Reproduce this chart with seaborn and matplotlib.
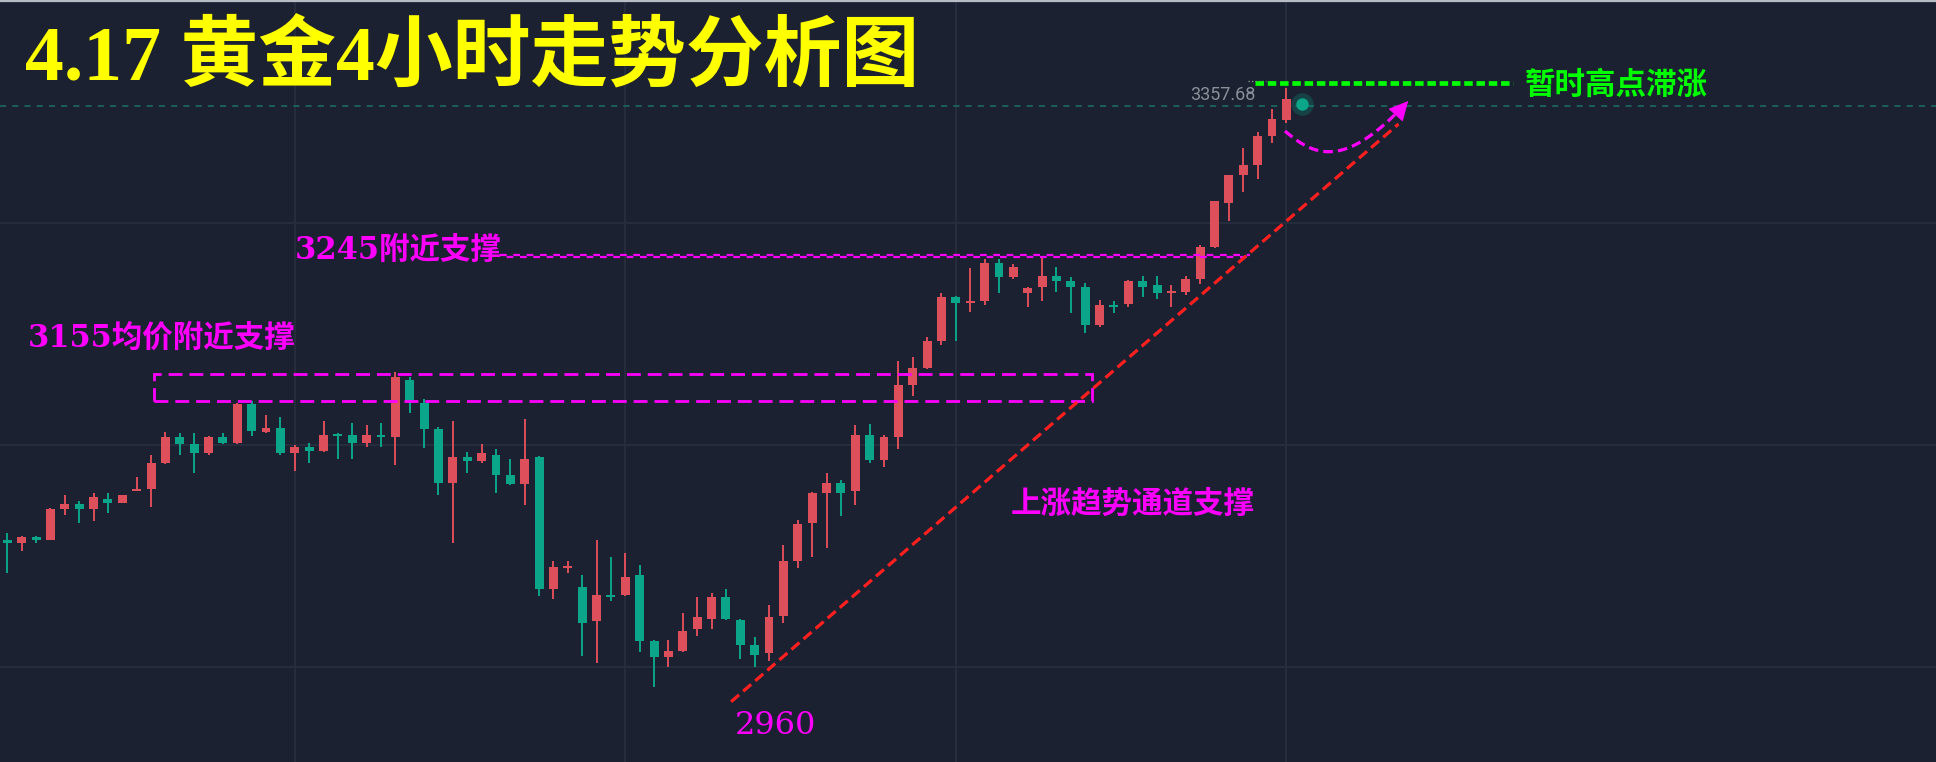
import numpy as np
import seaborn as sns
import matplotlib.pyplot as plt
from matplotlib.patches import Rectangle

# 4h gold candles (price units)
opens = [3032, 3030, 3034, 3032, 3055, 3059, 3055, 3063, 3060, 3069,
         3070, 3090, 3109, 3104, 3097, 3109, 3105, 3134, 3113, 3116,
         3097, 3102, 3099, 3111, 3111, 3105, 3111, 3109, 3152, 3135,
         3115, 3075, 3094, 3091, 3096, 3081, 3074, 3094, 2995, 3011,
         2997, 2971, 2991, 2991, 3006, 2956, 2944, 2949, 2965, 2973,
         2989, 2972, 2953, 2947, 2975, 3016, 3045, 3067, 3075, 3069,
         3111, 3092, 3109, 3148, 3161, 3181, 3214, 3210, 3211, 3240,
         3229, 3217, 3222, 3230, 3226, 3222, 3193, 3208, 3209, 3226,
         3223, 3217, 3218, 3228, 3252, 3285, 3306, 3313, 3335, 3347]
highs = [3037, 3035, 3035, 3056, 3066, 3061, 3067, 3067, 3066, 3079,
         3096, 3113, 3112, 3112, 3110, 3112, 3135, 3136, 3126, 3124,
         3103, 3105, 3121, 3112, 3120, 3118, 3120, 3158, 3154, 3138,
         3117, 3121, 3098, 3104, 3100, 3093, 3123, 3095, 3016, 3016,
         3006, 3032, 3019, 3022, 3013, 2957, 2957, 2977, 2989, 2992,
         2995, 2973, 2959, 2983, 3028, 3047, 3068, 3082, 3077, 3118,
         3119, 3111, 3166, 3169, 3184, 3217, 3215, 3236, 3243, 3243,
         3239, 3222, 3244, 3237, 3229, 3225, 3212, 3211, 3227, 3230,
         3230, 3223, 3230, 3253, 3286, 3306, 3326, 3338, 3355, 3371]
lows = [3007, 3024, 3030, 3032, 3051, 3045, 3046, 3052, 3060, 3069,
        3057, 3089, 3096, 3082, 3096, 3104, 3104, 3110, 3112, 3096,
        3084, 3090, 3098, 3093, 3093, 3102, 3102, 3088, 3127, 3101,
        3066, 3030, 3082, 3090, 3067, 3073, 3058, 2990, 2988, 3007,
        2945, 2940, 2986, 2990, 2948, 2922, 2937, 2948, 2960, 2965,
        2972, 2943, 2937, 2941, 2970, 3011, 3019, 3026, 3050, 3058,
        3090, 3087, 3100, 3140, 3160, 3178, 3181, 3203, 3208, 3217,
        3228, 3207, 3211, 3218, 3202, 3187, 3192, 3202, 3207, 3214,
        3213, 3207, 3216, 3224, 3251, 3271, 3293, 3303, 3330, 3345]
closes = [3030, 3034, 3032, 3055, 3059, 3055, 3064, 3060, 3066, 3070,
          3090, 3109, 3104, 3097, 3109, 3105, 3134, 3114, 3116, 3097,
          3102, 3099, 3111, 3110, 3105, 3111, 3109, 3154, 3136, 3115,
          3075, 3094, 3091, 3097, 3081, 3074, 3093, 2995, 3012, 3012,
          2970, 2991, 2989, 3004, 2956, 2944, 2949, 2964, 2974, 2989,
          2973, 2953, 2946, 2974, 3016, 3044, 3067, 3075, 3067, 3111,
          3092, 3109, 3148, 3161, 3181, 3214, 3210, 3211, 3240, 3229,
          3237, 3221, 3230, 3226, 3222, 3193, 3208, 3207, 3226, 3222,
          3217, 3218, 3228, 3252, 3286, 3306, 3313, 3335, 3348, 3363]

last_price = 3357.68
support_high = 3245
box_top, box_bottom = 3156.5, 3136.3
title = "4.17 黄金4小时走势分析图"

BG = "#1b2130"
GRID = "#252c3b"
UP = "#dc4f5b"
DOWN = "#0ba58a"
PINK = "#ff00ff"

sns.set_theme(style="dark", rc={"axes.facecolor": BG, "figure.facecolor": BG})
plt.rcParams["font.family"] = ["Liberation Serif", "Noto Sans CJK SC", "DejaVu Sans"]

fig = plt.figure(figsize=(19.36, 7.62), dpi=100)
ax = fig.add_axes([0, 0, 1, 1])
ax.set_xlim(-0.51, 134.2)
ax.set_ylim(2865.5, 3437)
ax.set_xticks([20, 43, 66, 89])
ax.set_yticks([2936.75, 3103.25, 3269.75])
ax.grid(True, color=GRID, lw=1.5)
ax.tick_params(length=0, labelbottom=False, labelleft=False)
for s in ax.spines.values():
    s.set_visible(False)

o = np.array(opens, dtype=float)
h = np.array(highs, dtype=float)
l = np.array(lows, dtype=float)
c = np.array(closes, dtype=float)
idx = np.arange(len(o))
cols = [UP if cc >= oo else DOWN for oo, cc in zip(o, c)]

# wicks then bodies
ax.vlines(idx, l, h, colors=cols, lw=1.4, zorder=3)
body = np.maximum(np.abs(c - o), 1.5)
ax.bar(idx, body, bottom=np.minimum(o, c), width=0.62, color=cols,
       edgecolor=cols, linewidth=0, zorder=4)

# last price line + marker
ax.axhline(last_price, color="#1d6f66", lw=1.1, ls=(0, (4, 4)), zorder=2)
ax.text(82.3, 3365.5, f"{last_price:.2f}", color="#8a8f99", fontsize=13,
        family=["Roboto"], va="center", ha="left")
ax.plot([86.3, 87.6], [3376.5, 3376.5], color="#8a8f99", lw=1, ls=(0, (1, 1.5)))
sns.scatterplot(x=[90.1], y=[3358.8], s=260, color=DOWN, alpha=0.25, linewidth=0, ax=ax, zorder=6)
sns.scatterplot(x=[90.1], y=[3358.8], s=80, color=DOWN, linewidth=0, ax=ax, zorder=7)

# title
ax.text(1.2, 3392, title, color="#ffff00", fontsize=56, fontweight="bold",
        va="center", ha="left")

# green stall line
ax.plot([86.8, 104.8], [3375, 3375], color="#00ff00", lw=3.4, ls=(0, (1.8, 0.8)),
        solid_capstyle="butt", zorder=8)
ax.text(105.6, 3372.5, "暂时高点滞涨", color="#00ff00", fontsize=22,
        fontweight="bold", va="center", ha="left")

# 3245 support line (jagged dashed look)
ax.plot([34.3, 86.5], [support_high + 0.6] * 2, color=PINK, lw=1.6, ls=(0, (3, 3)), zorder=8)
ax.plot([34.3, 86.5], [support_high - 0.6] * 2, color=PINK, lw=1.6, ls=(3, (3, 3)), zorder=8)
ax.text(20.0, 3249.5, "3245附近支撑", color=PINK, fontsize=22, fontweight="bold",
        family=["DejaVu Serif", "Noto Sans CJK SC"], va="center", ha="left")

# 3155 support box
ax.add_patch(Rectangle((10.2, box_bottom), 75.5 - 10.2, box_top - box_bottom,
                       fill=False, ec=PINK, lw=2, ls=(0, (5, 2.5)), zorder=8))
ax.text(1.45, 3183.5, "3155均价附近支撑", color=PINK, fontsize=22, fontweight="bold",
        family=["DejaVu Serif", "Noto Sans CJK SC"], va="center", ha="left")

# rising channel support
ax.plot([50.36, 96.8], [2910.7, 3344], color="#ff1f1f", lw=2.3, ls=(0, (3.3, 1.7)), zorder=8)
ax.text(69.8, 3058, "上涨趋势通道支撑", color=PINK, fontsize=22, fontweight="bold",
        va="center", ha="left")
ax.text(50.6, 2893, "2960", color=PINK, fontsize=23,
        family=["DejaVu Serif"], va="center", ha="left")

# expected path: pullback then up
p0, p1, p2, p3 = (88.9, 3338.75), (91.0, 3319.25), (93.1, 3309.5), (97.6, 3362.75)
t = np.linspace(0, 0.93, 60)
bx = (1 - t) ** 3 * p0[0] + 3 * (1 - t) ** 2 * t * p1[0] + 3 * (1 - t) * t ** 2 * p2[0] + t ** 3 * p3[0]
by = (1 - t) ** 3 * p0[1] + 3 * (1 - t) ** 2 * t * p1[1] + 3 * (1 - t) * t ** 2 * p2[1] + t ** 3 * p3[1]
ax.plot(bx, by, color=PINK, lw=2.3, ls=(0, (3, 1.6)), zorder=9)
ax.annotate("", xy=p3, xytext=(96.5, 3349.4),
            arrowprops=dict(arrowstyle="-|>,head_length=0.8,head_width=0.4",
                            color=PINK, lw=0.5, mutation_scale=16), zorder=9)

# thin top border
ax.axhline(3436.6, color="#b8bcc4", lw=1.6, clip_on=False, zorder=10)

fig.savefig("out.png", dpi=100, facecolor=BG)
